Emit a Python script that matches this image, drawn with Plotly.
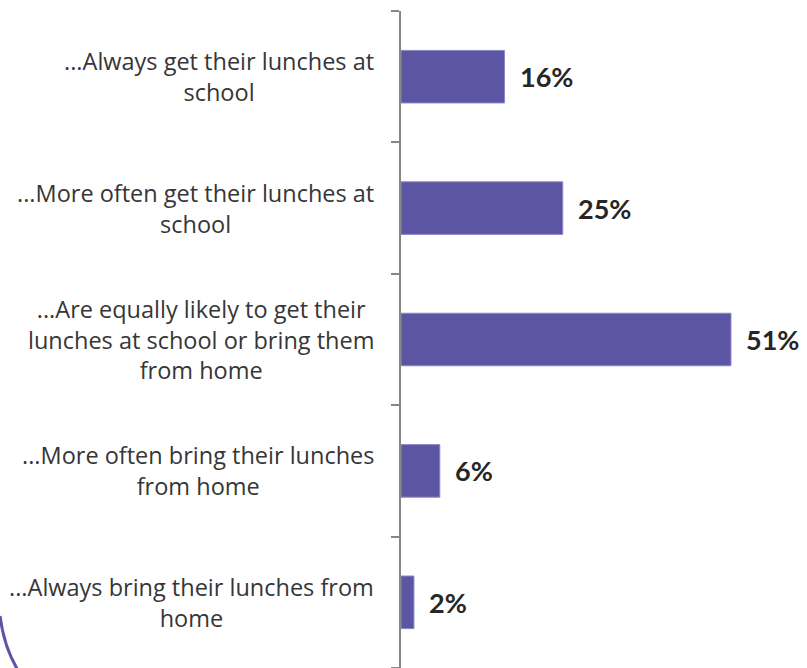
import plotly.graph_objects as go

categories = [
    "...Always get their lunches at<br>school",
    "...More often get their lunches at<br>school",
    "...Are equally likely to get their<br>lunches at school or bring them<br>from home",
    "...More often bring their lunches<br>from home",
    "...Always bring their lunches from<br>home",
]
values = [16, 25, 51, 6, 2]
value_labels = ["16%", "25%", "51%", "6%", "2%"]

BAR = "#5B55A4"
AXIS = "#878787"
TEXT = "#363636"
VALUE_FONT = "Lato, 'Open Sans', sans-serif"
CAT_FONT = "'Open Sans', Lato, sans-serif"

fig = go.Figure()
fig.add_trace(go.Bar(
    y=categories,
    x=values,
    orientation="h",
    width=0.4,
    marker=dict(color=BAR, line=dict(color="#8C88C6", width=1)),
    hoverinfo="skip",
))

annotations = []
# value labels just past the end of each bar
for cat, v, lab in zip(categories, values, value_labels):
    annotations.append(dict(
        x=v, y=cat, xref="x", yref="y", text="<b>" + lab + "</b>",
        showarrow=False, xanchor="left", xshift=13,
        font=dict(family=VALUE_FONT, size=27, color="#262626"),
    ))

# category labels: block right-aligned against the axis, lines centred
for cat in categories:
    annotations.append(dict(
        x=0, y=cat, xref="x", yref="y", text=cat,
        showarrow=False, xanchor="right", yanchor="middle",
        align="center", xshift=-25,
        font=dict(family=CAT_FONT, size=23.5, color=TEXT),
    ))

fig.update_layout(
    width=807, height=668,
    margin=dict(l=401, r=0, t=11, b=0),
    paper_bgcolor="white", plot_bgcolor="white",
    showlegend=False,
    bargap=0.6,
    annotations=annotations,
    xaxis=dict(range=[0, 406 / 6.47], visible=False, fixedrange=True),
    yaxis=dict(
        type="category",
        categoryorder="array", categoryarray=categories[::-1],
        autorange=True,
        showticklabels=False,
        showline=True, linecolor=AXIS, linewidth=2,
        ticks="outside", tickson="boundaries", ticklen=8,
        tickcolor=AXIS, tickwidth=2,
        showgrid=False, zeroline=False, fixedrange=True,
    ),
    shapes=[dict(
        type="path", xref="paper", yref="paper",
        xsizemode="pixel", ysizemode="pixel", xanchor=0, yanchor=0,
        path="M -401,52 Q -397,20 -382,-4",
        line=dict(color=BAR, width=3),
    )],
)

fig.write_html("out.html")
